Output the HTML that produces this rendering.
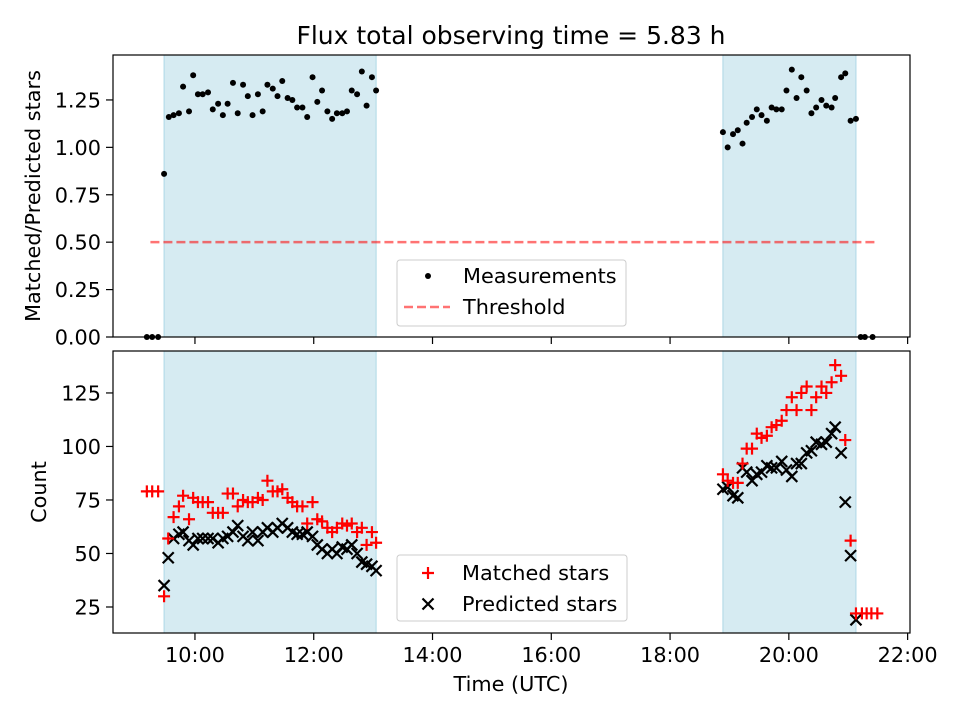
<!DOCTYPE html>
<html><head><meta charset="utf-8"><style>
body{margin:0;background:#fff;font-family:"Liberation Sans","DejaVu Sans",sans-serif}
svg text{font-family:"DejaVu Sans","Liberation Sans",sans-serif;font-size:20.8px;fill:#000}
</style></head><body>
<svg id="c" width="960" height="720" xmlns="http://www.w3.org/2000/svg"></svg>
<script>
const spans=[[9.48,13.05],[18.89,21.13]];
const measTimes=[9.19,9.28,9.38,9.48,9.56,9.64,9.73,9.80,9.90,9.97,10.05,10.13,10.22,10.30,10.39,10.47,10.55,10.64,10.72,10.81,10.89,10.97,11.06,11.14,11.22,11.31,11.39,11.47,11.56,11.64,11.72,11.81,11.89,11.98,12.06,12.14,12.23,12.31,12.39,12.48,12.56,12.64,12.73,12.81,12.89,12.98,13.05,
18.89,18.97,19.06,19.14,19.22,19.29,19.38,19.46,19.54,19.63,19.71,19.79,19.88,19.96,20.05,20.13,20.21,20.30,20.38,20.46,20.55,20.63,20.72,20.78,20.88,20.95,21.04,21.13,21.21,21.28,21.41];
const measValues=[0,0,0,0.86,1.16,1.17,1.18,1.32,1.19,1.38,1.28,1.28,1.29,1.20,1.23,1.17,1.23,1.34,1.18,1.33,1.27,1.17,1.28,1.19,1.33,1.31,1.27,1.35,1.26,1.25,1.21,1.21,1.16,1.37,1.24,1.30,1.19,1.15,1.18,1.18,1.19,1.30,1.28,1.40,1.22,1.37,1.30,
1.08,1.00,1.07,1.09,1.02,1.13,1.16,1.20,1.17,1.14,1.21,1.20,1.20,1.30,1.41,1.26,1.37,1.30,1.18,1.21,1.25,1.22,1.21,1.26,1.37,1.39,1.14,1.15,0,0,0];
const countTimes=[9.19,9.28,9.38,9.48,9.55,9.64,9.73,9.80,9.90,9.97,10.05,10.13,10.22,10.30,10.39,10.47,10.55,10.64,10.72,10.81,10.89,10.97,11.06,11.14,11.22,11.31,11.39,11.47,11.56,11.64,11.72,11.81,11.89,11.98,12.06,12.14,12.23,12.31,12.39,12.48,12.56,12.64,12.73,12.81,12.89,12.98,13.05,
18.89,18.97,19.06,19.14,19.22,19.29,19.38,19.46,19.54,19.63,19.71,19.79,19.88,19.96,20.05,20.13,20.21,20.30,20.38,20.46,20.55,20.63,20.72,20.78,20.88,20.95,21.04,21.13,21.23,21.31,21.39,21.49];
const matched=[79,79,79,30,57,67,72,77,66,76,74,74,74,69,69,69,78,78,72,75,74,74,76,75,84,79,79,80,76,74,72,72,64,74,66,65,62,60,62,64,63,64,60,62,54,60,55,
87,84,83,83,92,99,99,106,104,105,109,110,112,117,123,117,125,128,117,123,128,125,130,138,133,103,56,22,22,22,22,22];
const predicted=[null,null,null,35,48,57,59,60,56,54,57,57,57,57,55,57,58,60,63,58,56,60,56,60,62,60,62,64,62,60,59,59,60,58,54,52,50,52,50,53,52,54,50,46,45,44,42,
80,81,77,76,90,88,84,87,88,91,90,90,93,89,86,92,92,97,98,102,101,102,106,109,97,74,49,19,null,null,null,null];
const threshold=0.5, thrRange=[9.25,21.45];
const topTicks=[0,0.25,0.5,0.75,1.0,1.25], botTicks=[25,50,75,100,125];
const xTicks=[10,12,14,16,18,20,22];

const NS="http://www.w3.org/2000/svg", svg=document.getElementById('c');
function mk(t,a,p){const e=document.createElementNS(NS,t);for(const k in a)e.setAttribute(k,a[k]);(p||svg).appendChild(e);return e;}
const L=113,R=910;
const X=h=>L+(h-8.62)/(22.04-8.62)*(R-L);
const Yt=v=>337-v/1.487*282;
const Yb=v=>633-(v-12.85)/(144.6-12.85)*282;

function panel(top,bot,name){
  const g=mk('g',{});
  spans.forEach((s,i)=>{const r=mk('rect',{x:X(s[0]),y:top,width:X(s[1])-X(s[0]),height:bot-top,fill:'#add8e6','fill-opacity':0.5,stroke:'#add8e6'},g);
    });
  return g;
}
function frame(top,bot,g){mk('rect',{x:L,y:top,width:R-L,height:bot-top,fill:'none',stroke:'#000','stroke-width':1.2},g);}
function xt(bot,labels,g){xTicks.forEach(h=>{const x=X(h);mk('line',{x1:x,x2:x,y1:bot,y2:bot+7,stroke:'#000','stroke-width':1.2},g);
  if(labels){const t=mk('text',{x:x,y:bot+29,'text-anchor':'middle'},g);t.textContent=(h<10?'0':'')+h+':00';}});}

// top panel
const gt=panel(55,337,'ratio-panel');
const tl=mk('line',{x1:X(thrRange[0]),x2:X(thrRange[1]),y1:Yt(threshold),y2:Yt(threshold),stroke:'#ff0000','stroke-opacity':0.55,'stroke-width':2.5,'stroke-dasharray':'9,4'},gt);

measTimes.forEach((t,i)=>{const c=mk('circle',{cx:X(t),cy:Yt(measValues[i]),r:3,fill:'#000'},gt);
  });
frame(55,337,gt);xt(337,false,gt);
topTicks.forEach(v=>{const y=Yt(v);mk('line',{x1:L-7,x2:L,y1:y,y2:y,stroke:'#000','stroke-width':1.2},gt);
  const t=mk('text',{x:L-12,y:y+7.5,'text-anchor':'end'},gt);t.textContent=v.toFixed(2);});
// top legend
const lg=mk('g',{});
mk('rect',{x:397,y:260,width:229,height:66,rx:3,fill:'#fff','fill-opacity':0.8,stroke:'#ccc'},lg);
mk('circle',{cx:428,cy:276,r:3,fill:'#000'},lg);
let tt=mk('text',{x:463,y:283},lg);tt.textContent='Measurements';
mk('line',{x1:404,x2:450,y1:307,y2:307,stroke:'#ff0000','stroke-opacity':0.55,'stroke-width':2.5,'stroke-dasharray':'9,4'},lg);
tt=mk('text',{x:463,y:314},lg);tt.textContent='Threshold';

// bottom panel
const gb=panel(351,633,'count-panel');
countTimes.forEach((t,i)=>{
  if(predicted[i]!=null){const x=X(t),y=Yb(predicted[i]),d=5.5;
    const p=mk('path',{d:`M${x-d},${y-d}L${x+d},${y+d}M${x-d},${y+d}L${x+d},${y-d}`,stroke:'#000','stroke-width':2.2},gb);
    }
});
countTimes.forEach((t,i)=>{
  if(matched[i]!=null){const x=X(t),y=Yb(matched[i]),d=6;
    const p=mk('path',{d:`M${x-d},${y}L${x+d},${y}M${x},${y-d}L${x},${y+d}`,stroke:'#ff0000','stroke-width':2.2},gb);
    }
});
frame(351,633,gb);xt(633,true,gb);
botTicks.forEach(v=>{const y=Yb(v);mk('line',{x1:L-7,x2:L,y1:y,y2:y,stroke:'#000','stroke-width':1.2},gb);
  const t=mk('text',{x:L-12,y:y+7.5,'text-anchor':'end'},gb);t.textContent=v;});
const lb=mk('g',{});
mk('rect',{x:397,y:555,width:230,height:66,rx:3,fill:'#fff','fill-opacity':0.8,stroke:'#ccc'},lb);
mk('path',{d:'M422,573L434,573M428,567L428,579',stroke:'#ff0000','stroke-width':2.2},lb);
tt=mk('text',{x:462,y:580},lb);tt.textContent='Matched stars';
mk('path',{d:'M422.5,598.5L433.5,609.5M422.5,609.5L433.5,598.5',stroke:'#000','stroke-width':2.2},lb);
tt=mk('text',{x:462,y:611},lb);tt.textContent='Predicted stars';

// titles
let ti=mk('text',{x:511,y:44,'text-anchor':'middle',style:'font-size:25px'});ti.textContent='Flux total observing time = 5.83 h';

ti=mk('text',{x:511,y:691,'text-anchor':'middle'});ti.textContent='Time (UTC)';

ti=mk('text',{x:0,y:0,'text-anchor':'middle',transform:'translate(40,196) rotate(-90)'});ti.textContent='Matched/Predicted stars';

ti=mk('text',{x:0,y:0,'text-anchor':'middle',transform:'translate(46,492) rotate(-90)'});ti.textContent='Count';

</script>
</body></html>
